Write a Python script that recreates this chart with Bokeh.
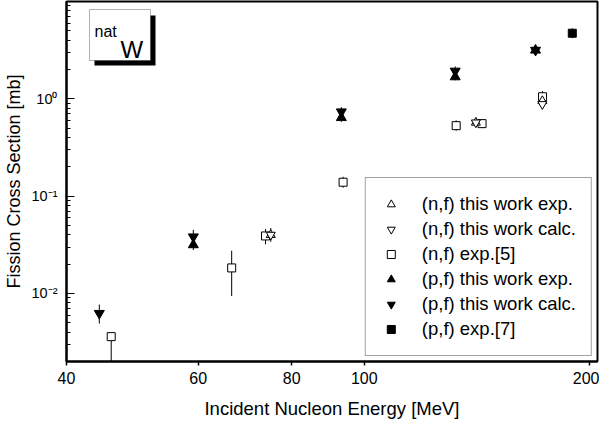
from bokeh.plotting import figure
from bokeh.models import (FixedTicker, CustomJSTickFormatter,
                          Legend, LegendItem, BoxAnnotation, Label, Range1d)
from bokeh.embed import file_html
from bokeh.resources import INLINE

# ---------------- data ----------------
# (n,f) this work, experiment (open up-triangles)
nf_exp_E = [75.0, 141.0, 173.0]
nf_exp_sig = [0.040, 0.57, 0.95]
# (n,f) this work, calculation (open down-triangles)
nf_calc_E = [75.0, 141.0, 173.0]
nf_calc_sig = [0.040, 0.57, 0.88]
nf_err_E = [75.0, 141.0]
nf_err_lo = [0.034, 0.52]
nf_err_hi = [0.047, 0.62]
# (n,f) exp. [5] (open squares)
nf5_E = [45.9, 66.5, 73.8, 93.7, 132.7, 143.7, 173.1]
nf5_sig = [0.0036, 0.0183, 0.039, 0.139, 0.53, 0.556, 1.05]
nf5_lo = [0.0015, 0.0094, 0.032, 0.122, 0.47, 0.50, 0.93]
nf5_hi = [0.0036, 0.0275, 0.046, 0.158, 0.60, 0.62, 1.20]
# (p,f) this work, experiment (filled up-triangles)
pf_exp_E = [59.1, 93.2, 132.3, 169.4]
pf_exp_sig = [0.0316, 0.64, 1.68, 3.16]
# (p,f) this work, calculation (filled down-triangles)
pf_calc_E = [44.25, 59.1, 93.2, 132.3, 169.4]
pf_calc_sig = [0.00625, 0.0382, 0.736, 1.93, 3.16]
pf_err_E = [44.25, 59.1, 93.2, 132.3, 169.4]
pf_err_lo = [0.0049, 0.028, 0.58, 1.55, 2.85]
pf_err_hi = [0.0077, 0.045, 0.82, 2.15, 3.55]
# (p,f) exp. [7] (filled squares)
pf7_E = [189.7]
pf7_sig = [4.72]
pf7_lo = [4.2]
pf7_hi = [5.3]

x_ticks = [40, 60, 80, 100, 200]
y_ticks = [0.01, 0.1, 1]
y_minor = [m * 10.0 ** d for d in (-3, -2, -1, 0) for m in range(2, 10)]
x_start, x_end = 40, 205
y_start, y_end = 0.002, 10

FONT = "Liberation Sans"

p = figure(width=599, height=430, x_axis_type="log", y_axis_type="log",
           x_range=Range1d(x_start, x_end), y_range=Range1d(y_start, y_end),
           output_backend="svg", toolbar_location=None,
           min_border_left=61, min_border_right=2, min_border_top=1,
           min_border_bottom=69)
p.grid.visible = False
p.outline_line_color = "black"
p.outline_line_width = 2
p.outline_line_alpha = 1
p.background_fill_color = "white"
p.border_fill_color = "white"

# bottom axis
xa = p.xaxis[0]
xa.ticker = FixedTicker(ticks=x_ticks, minor_ticks=[])
xa.formatter = CustomJSTickFormatter(code="return tick.toFixed(0);")
xa.axis_label = "Incident Nucleon Energy [MeV]"
xa.axis_label_text_font = FONT
xa.axis_label_text_font_size = "18.5px"
xa.axis_label_text_font_style = "normal"
xa.axis_label_text_color = "black"
xa.axis_label_standoff = 11
xa.major_label_text_font = FONT
xa.major_label_text_font_size = "16px"
xa.major_label_text_color = "black"
xa.major_label_standoff = 6
xa.major_tick_in = 0
xa.major_tick_out = 4
xa.axis_line_width = 2
xa.major_tick_line_width = 1.5

# left axis
ya = p.yaxis[0]
ya.ticker = FixedTicker(ticks=y_ticks, minor_ticks=y_minor)
ya.formatter = CustomJSTickFormatter(code="""
const e = Math.round(Math.log10(tick));
const sup = {"0":"\u2070","1":"\u00b9","2":"\u00b2","3":"\u00b3","-":"\u207b"};
return "10" + String(e).split("").map(c => sup[c]).join("");
""")
ya.axis_label = "Fission Cross Section [mb]"
ya.axis_label_text_font = FONT
ya.axis_label_text_font_size = "18px"
ya.axis_label_text_font_style = "normal"
ya.axis_label_text_color = "black"
ya.axis_label_standoff = 5
ya.major_label_text_font = FONT
ya.major_label_text_font_size = "14.5px"
ya.major_label_text_color = "black"
ya.major_label_standoff = 9
ya.major_tick_in = 8
ya.major_tick_out = 0
ya.minor_tick_in = 4
ya.minor_tick_out = 0
ya.axis_line_width = 2
ya.major_tick_line_width = 1.2

# error bars
p.segment(x0=nf5_E, y0=nf5_lo, x1=nf5_E, y1=nf5_hi, line_color="black", line_width=1)
p.segment(x0=nf_err_E, y0=nf_err_lo, x1=nf_err_E, y1=nf_err_hi, line_color="black", line_width=1)
p.segment(x0=pf_err_E, y0=pf_err_lo, x1=pf_err_E, y1=pf_err_hi, line_color="black", line_width=1)
p.segment(x0=pf7_E, y0=pf7_lo, x1=pf7_E, y1=pf7_hi, line_color="black", line_width=1)

# markers
r_nf5 = p.scatter(nf5_E, nf5_sig, marker="square", size=8, fill_color="white",
                  line_color="black", line_width=1)
r_nfe = p.scatter(nf_exp_E, nf_exp_sig, marker="triangle", size=9, fill_color="white",
                  line_color="black", line_width=1)
r_nfc = p.scatter(nf_calc_E, nf_calc_sig, marker="inverted_triangle", size=9,
                  fill_color="white", line_color="black", line_width=1)
r_pfe = p.scatter(pf_exp_E, pf_exp_sig, marker="triangle", size=10, fill_color="black",
                  line_color="black", line_width=1)
r_pfc = p.scatter(pf_calc_E, pf_calc_sig, marker="inverted_triangle", size=10,
                  fill_color="black", line_color="black", line_width=1)
r_pf7 = p.scatter(pf7_E, pf7_sig, marker="square", size=8, fill_color="black",
                  line_color="black", line_width=1)

legend = Legend(items=[
    LegendItem(label="(n,f) this work exp.", renderers=[r_nfe]),
    LegendItem(label="(n,f) this work calc.", renderers=[r_nfc]),
    LegendItem(label="(n,f) exp.[5]", renderers=[r_nf5]),
    LegendItem(label="(p,f) this work exp.", renderers=[r_pfe]),
    LegendItem(label="(p,f) this work calc.", renderers=[r_pfc]),
    LegendItem(label="(p,f) exp.[7]", renderers=[r_pf7]),
], location="bottom_right")
legend.label_text_font = FONT
legend.label_text_font_size = "18.5px"
legend.label_text_color = "black"
legend.glyph_width = 20
legend.glyph_height = 20
legend.label_height = 20
legend.label_standoff = 21
legend.spacing = 3
legend.padding = 15
legend.margin = 5
legend.border_line_color = "#444444"
legend.border_line_width = 1
legend.background_fill_color = "white"
legend.background_fill_alpha = 1
p.add_layout(legend)

# element label box ("natW") with shadow
p.add_layout(BoxAnnotation(left=28, right=89, bottom=296, top=346,
                           left_units="screen", right_units="screen",
                           bottom_units="screen", top_units="screen",
                           fill_color="black", fill_alpha=1, line_color=None))
p.add_layout(BoxAnnotation(left=23, right=84, bottom=301, top=352,
                           left_units="screen", right_units="screen",
                           bottom_units="screen", top_units="screen",
                           fill_color="white", fill_alpha=1, line_color="black",
                           line_width=1))
p.add_layout(Label(x=28, y=330, x_units="screen", y_units="screen", text="nat",
                   text_font=FONT, text_font_size="16px", text_color="black",
                   text_baseline="alphabetic"))
p.add_layout(Label(x=54, y=312, x_units="screen", y_units="screen", text="W",
                   text_font=FONT, text_font_size="24px", text_color="black",
                   text_baseline="alphabetic"))

open("out.html", "w").write(file_html(p, INLINE))
